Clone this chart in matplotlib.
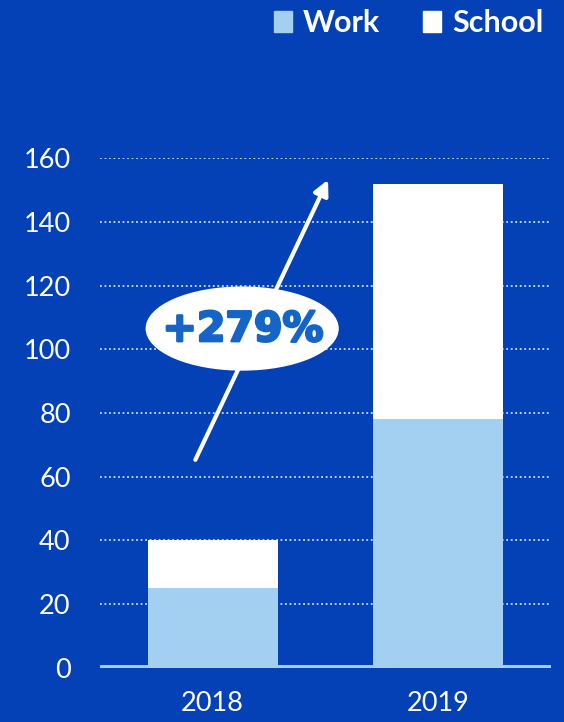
import numpy as np
import matplotlib.pyplot as plt
import matplotlib.patheffects as pe
from matplotlib.patches import Ellipse, Patch

years = ['2018', '2019']
work = np.array([25, 78])
school = np.array([15, 74])
growth_label = '+279%'

bg = '#0441B7'
light = '#A3D0F0'

plt.rcParams['font.family'] = ['Lato', 'DejaVu Sans']

fig = plt.figure(figsize=(5.64, 7.22), dpi=100, facecolor=bg)
ax = fig.add_axes([0.177, 0.075, 0.8, 0.706])
ax.set_facecolor(bg)

x = np.arange(len(years))
ax.bar(x, work, width=0.577, color=light, zorder=3)
ax.bar(x, school, width=0.577, bottom=work, color='white', zorder=3)

ax.set_xlim(-0.5, 1.5)
ax.set_ylim(0, 160)
ax.set_yticks(np.arange(0, 161, 20))
for v in range(20, 161, 20):
    ax.axhline(v, color='#D0E0F8', lw=1.3, ls=(0, (1, 1.5)), zorder=1)
ax.axhline(0, color=light, lw=5, zorder=4)

ax.set_xticks(x)
ax.set_xticklabels(years)
ax.tick_params(axis='both', length=0, colors='white', labelsize=19.5)
ax.tick_params(axis='y', pad=21)
ax.tick_params(axis='x', pad=17)
for s in ax.spines.values():
    s.set_visible(False)

# growth arrow + label
ax.annotate('', xy=(0.517, 154), xytext=(-0.082, 64.5),
            arrowprops=dict(arrowstyle='-|>,head_length=0.9,head_width=0.45',
                            color='white', lw=3), zorder=5)
ax.add_patch(Ellipse((0.131, 106.5), 0.85, 26, color='white', zorder=6))
ax.text(0.135, 106.0, growth_label, ha='center', va='center', fontsize=29.5,
        fontweight='bold', family='DejaVu Sans', color='#1565C8', zorder=7,
        path_effects=[pe.withStroke(linewidth=1.8, foreground='#1565C8')])

handles = [Patch(color=light, label='Work'), Patch(color='white', label='School')]
leg = fig.legend(handles=handles, loc='upper right', bbox_to_anchor=(1.012, 1.025),
                 ncol=2, frameon=False, fontsize=22, handlelength=0.6,
                 handleheight=0.7, handletextpad=0.35, columnspacing=1.4)
for t in leg.get_texts():
    t.set_color('white')
    t.set_fontweight('bold')

fig.savefig('out.png', dpi=100, facecolor=bg)
